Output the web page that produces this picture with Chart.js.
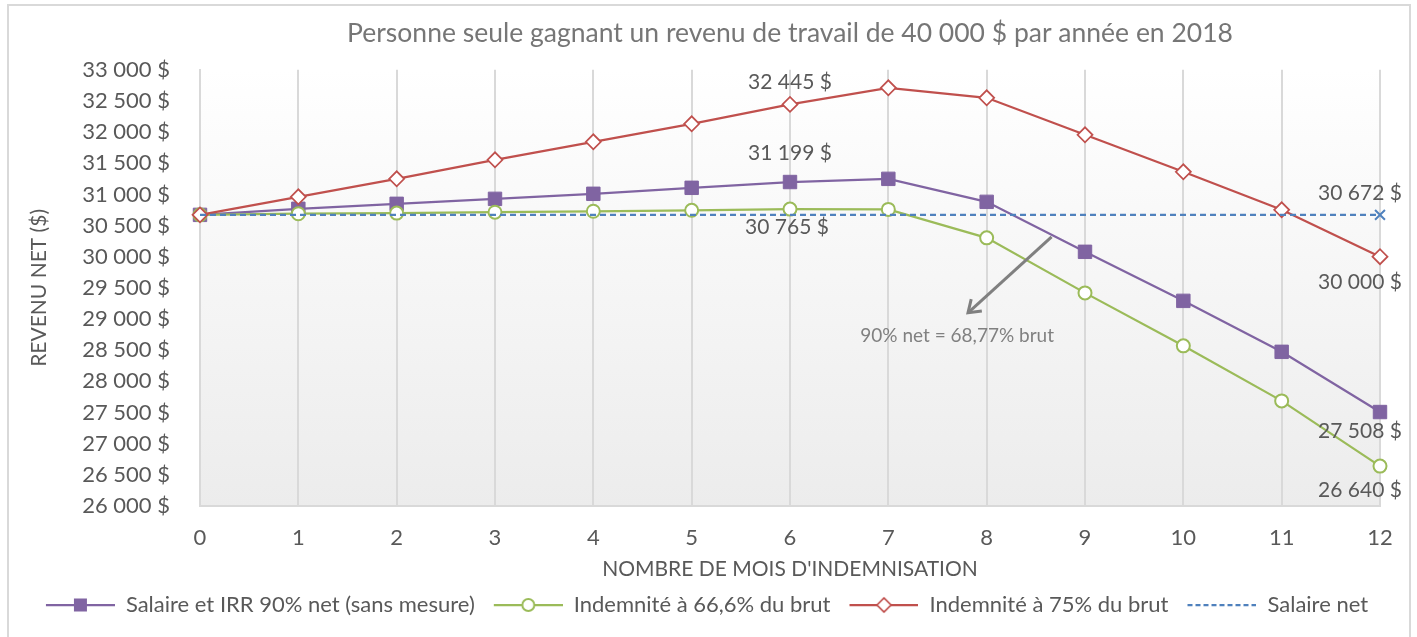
<!DOCTYPE html>
<html lang="fr">
<head>
<meta charset="utf-8">
<title>Revenu net</title>
<script src="https://cdn.jsdelivr.net/npm/chart.js@4.4.1/dist/chart.umd.min.js"></script>
<style>
  html, body { margin: 0; padding: 0; background: #fff; }
  #wrap { width: 1417px; height: 637px; position: relative; }
</style>
</head>
<body>
<div id="wrap"><canvas id="chart"></canvas></div>
<script>
// months of indemnisation
const months = ['0', '1', '2', '3', '4', '5', '6', '7', '8', '9', '10', '11', '12'];

// series values ($)
const salaireIrr = [30672, 30769, 30849, 30929, 31010, 31106, 31199, 31250, 30881, 30079, 29292, 28474, 27508];
const indem666 = [30672, 30690, 30700, 30715, 30730, 30745, 30765, 30760, 30303, 29420, 28570, 27687, 26640];
const indem75 = [30672, 30962, 31250, 31555, 31844, 32133, 32445, 32711, 32551, 31957, 31363, 30753, 30000];
const salaireNet = [30672, 30672, 30672, 30672, 30672, 30672, 30672, 30672, 30672, 30672, 30672, 30672, 30672];

const seriesNames = [
    'Salaire et IRR 90% net (sans mesure)',
    'Indemnité à 66,6% du brut',
    'Indemnité à 75% du brut',
    'Salaire net'
];

const yMin = 26000, yMax = 33000, yStep = 500;

const PURPLE = '#8064A2', GREEN = '#9BBB59', RED = '#C0504D', BLUE = '#4F81BD';
const TEXT = '#595959';

function fmt(v) {
    return String(v).replace(/\B(?=(\d{3})+(?!\d))/g, ' ') + ' $';
}

// which points get a value label: [datasetIndex, pointIndex, dx, dy]
const valueLabels = [
    [2, 6, 0, -22],
    [0, 6, 0, -29],
    [1, 6, -3, 18],
    [3, 12, -20, -22],
    [2, 12, -20, 25],
    [0, 12, -20, 19],
    [1, 12, -20, 24]
];

// little legend icons: line with the marker in the middle
function legendIcon(color, marker, dashed) {
    const c = document.createElement('canvas');
    c.width = 80; c.height = 20;
    const g = c.getContext('2d');
    g.strokeStyle = color;
    g.lineWidth = 2.25;
    if (dashed) g.setLineDash([5, 3]);
    g.beginPath();
    g.moveTo(11, 10);
    g.lineTo(80, 10);
    g.stroke();
    g.setLineDash([]);
    const cx = 45.5, cy = 10;
    if (marker === 'square') {
        g.fillStyle = color;
        g.fillRect(cx - 6.5, cy - 6.5, 13, 13);
    } else if (marker === 'circle') {
        g.fillStyle = '#fff';
        g.lineWidth = 2;
        g.beginPath();
        g.arc(cx, cy, 6, 0, Math.PI * 2);
        g.fill();
        g.stroke();
    } else if (marker === 'diamond') {
        g.fillStyle = '#fff';
        g.lineWidth = 1.75;
        g.beginPath();
        g.moveTo(cx - 7, cy);
        g.lineTo(cx, cy - 7);
        g.lineTo(cx + 7, cy);
        g.lineTo(cx, cy + 7);
        g.closePath();
        g.fill();
        g.stroke();
    }
    return c;
}

const legendIcons = [
    legendIcon(PURPLE, 'square', false),
    legendIcon(GREEN, 'circle', false),
    legendIcon(RED, 'diamond', false),
    legendIcon(BLUE, null, true)
];

const chartDecor = {
    id: 'chartDecor',
    beforeDraw(chart) {
        const ctx = chart.ctx;
        const a = chart.chartArea;
        ctx.save();
        // outer frame
        ctx.strokeStyle = '#d9d9d9';
        ctx.lineWidth = 2;
        ctx.strokeRect(8, 5, 1402, 660);
        // plot area gradient
        const grad = ctx.createLinearGradient(0, a.top, 0, a.bottom);
        grad.addColorStop(0, '#ffffff');
        grad.addColorStop(1, '#ececec');
        ctx.fillStyle = grad;
        ctx.fillRect(a.left, a.top, a.right - a.left, a.bottom - a.top);
        ctx.restore();
    },
    afterDatasetsDraw(chart) {
        const ctx = chart.ctx;
        const xs = chart.scales.x, ys = chart.scales.y;
        ctx.save();
        ctx.font = '21px Lato';
        ctx.fillStyle = TEXT;
        ctx.textAlign = 'center';
        ctx.textBaseline = 'middle';
        valueLabels.forEach(([d, i, dx, dy]) => {
            const pt = chart.getDatasetMeta(d).data[i];
            const v = chart.data.datasets[d].data[i];
            ctx.fillText(fmt(v), pt.x + dx, pt.y + dy);
        });

        // arrow annotation
        const x1 = xs.getPixelForValue(8.66), y1 = ys.getPixelForValue(30320);
        const x2 = xs.getPixelForValue(7.81), y2 = ys.getPixelForValue(29100);
        ctx.strokeStyle = '#808080';
        ctx.lineWidth = 3;
        ctx.beginPath();
        ctx.moveTo(x1, y1);
        ctx.lineTo(x2, y2);
        ctx.stroke();
        const ang = Math.atan2(y2 - y1, x2 - x1);
        const L = 14;
        ctx.beginPath();
        ctx.moveTo(x2 - L * Math.cos(ang - 0.6), y2 - L * Math.sin(ang - 0.6));
        ctx.lineTo(x2, y2);
        ctx.lineTo(x2 - L * Math.cos(ang + 0.6), y2 - L * Math.sin(ang + 0.6));
        ctx.stroke();
        ctx.font = '19px Lato';
        ctx.fillStyle = '#808080';
        ctx.fillText('90% net = 68,77% brut', xs.getPixelForValue(7.7), ys.getPixelForValue(28730));
        ctx.restore();
    }
};

Chart.defaults.font.family = 'Lato';
Chart.defaults.color = TEXT;

new Chart(document.getElementById('chart'), {
    type: 'line',
    data: {
        labels: months,
        datasets: [
            {
                label: seriesNames[0],
                data: salaireIrr,
                borderColor: PURPLE,
                backgroundColor: PURPLE,
                borderWidth: 2.25,
                pointStyle: 'rect',
                pointRadius: 9.5,
                pointBorderWidth: 1,
                pointBorderColor: PURPLE,
                pointBackgroundColor: PURPLE,
                order: 4
            },
            {
                label: seriesNames[1],
                data: indem666,
                borderColor: GREEN,
                backgroundColor: '#fff',
                borderWidth: 2.25,
                pointStyle: 'circle',
                pointRadius: 6.5,
                pointBorderWidth: 2,
                pointBorderColor: GREEN,
                pointBackgroundColor: '#fff',
                order: 3
            },
            {
                label: seriesNames[2],
                data: indem75,
                borderColor: RED,
                backgroundColor: '#fff',
                borderWidth: 2.25,
                pointStyle: 'rectRot',
                pointRadius: 7.5,
                pointBorderWidth: 1.75,
                pointBorderColor: RED,
                pointBackgroundColor: '#fff',
                order: 2
            },
            {
                label: seriesNames[3],
                data: salaireNet,
                borderColor: BLUE,
                borderWidth: 2.25,
                borderDash: [6, 4],
                pointStyle: 'crossRot',
                pointRadius: months.map((m, i) => i === months.length - 1 ? 7 : 0),
                pointBorderWidth: 2,
                pointBorderColor: BLUE,
                order: 1
            }
        ]
    },
    options: {
        responsive: true,
        maintainAspectRatio: false,
        animation: false,
        layout: { padding: { top: 8, left: 23, right: 37, bottom: 11 } },
        plugins: {
            title: {
                display: true,
                fullSize: false,
                text: 'Personne seule gagnant un revenu de travail de 40 000 $ par année en 2018',
                color: '#767676',
                font: { size: 26.5, weight: 'normal' },
                padding: { top: 10, bottom: 20 }
            },
            legend: {
                position: 'bottom',
                labels: {
                    usePointStyle: true,
                    pointStyleWidth: 80,
                    padding: 8,
                    color: TEXT,
                    font: { size: 22 },
                    generateLabels: (chart) => chart.data.datasets.map((ds, i) => ({
                        text: ds.label,
                        pointStyle: legendIcons[i],
                        datasetIndex: i,
                        fillStyle: 'transparent',
                        strokeStyle: 'transparent',
                        lineWidth: 0,
                        fontColor: TEXT,
                        hidden: false
                    }))
                }
            },
            tooltip: { enabled: false }
        },
        scales: {
            x: {
                offset: false,
                grid: { color: '#d9d9d9', lineWidth: 2, drawTicks: false },
                border: { color: '#d9d9d9', width: 2 },
                ticks: { padding: 19, font: { size: 22 }, color: TEXT, maxRotation: 0 },
                title: {
                    display: true,
                    text: "NOMBRE DE MOIS D'INDEMNISATION",
                    color: TEXT,
                    font: { size: 21 },
                    padding: { top: 0, bottom: 4 }
                },
                afterFit: (scale) => { scale.height = 80; }
            },
            y: {
                min: yMin,
                max: yMax,
                grid: { display: false, drawTicks: false },
                border: { color: '#d9d9d9', width: 2 },
                ticks: {
                    stepSize: yStep,
                    padding: 30,
                    font: { size: 22 },
                    color: TEXT,
                    callback: (v) => fmt(v)
                },
                title: {
                    display: true,
                    text: 'REVENU NET ($)',
                    color: TEXT,
                    font: { size: 21 },
                    padding: { top: 4, bottom: 0 }
                },
                afterFit: (scale) => { scale.width = 177; }
            }
        }
    },
    plugins: [chartDecor]
});
</script>
</body>
</html>
